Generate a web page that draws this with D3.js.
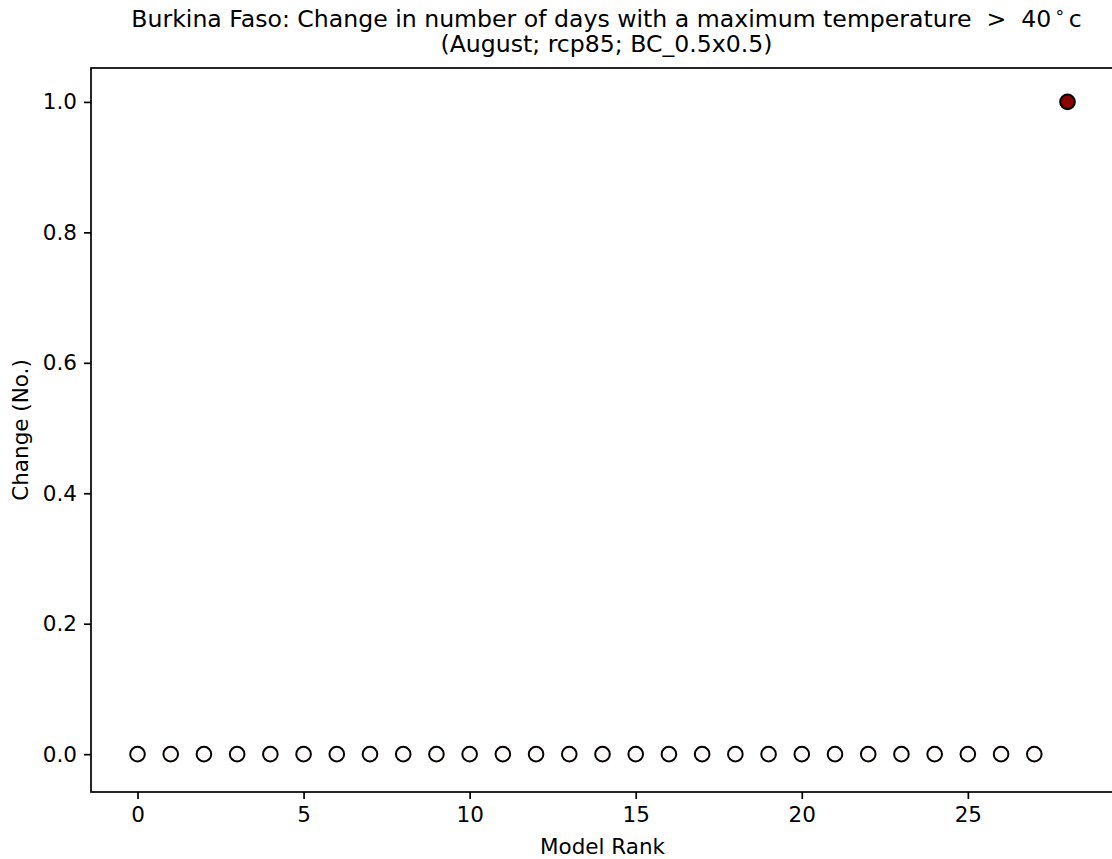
<!DOCTYPE html>
<html>
<head>
<meta charset="utf-8">
<script src="https://cdn.jsdelivr.net/npm/d3@7"></script>
<style>
  body { margin: 0; background: #fff; }
  svg text { font-family: "DejaVu Sans", sans-serif; fill: #000; }
</style>
</head>
<body>
<div id="chart"></div>
<script>
// model rank vs change in number of days
var ranks = d3.range(29);
var changes = [0, 0, 0, 0, 0, 0, 0, 0, 0, 0, 0, 0, 0, 0, 0, 0, 0, 0, 0, 0, 0, 0, 0, 0, 0, 0, 0, 0, 1];
var highlighted = [28];
var xTicks = [0, 5, 10, 15, 20, 25];
var yTicks = [0.0, 0.2, 0.4, 0.6, 0.8, 1.0];

var width = 1112,
    height = 859,
    plotLeft = 91,
    plotRight = 1114,
    plotTop = 68,
    plotBottom = 792,
    fontSize = 21.5,
    titleSize = 23.6;

var svg = d3.select("#chart")
    .append("svg")
    .attr("width", width)
    .attr("height", height);

var x = d3.scaleLinear()
    .domain([-1.4, 29.4])
    .range([plotLeft, plotRight]);

var y = d3.scaleLinear()
    .domain([-0.058, 1.052])
    .range([plotBottom, plotTop]);

// axes
var xAxis = d3.axisBottom(x)
    .tickValues(xTicks)
    .tickFormat(d3.format("d"))
    .tickSizeInner(7)
    .tickSizeOuter(0)
    .tickPadding(7);

var yAxis = d3.axisLeft(y)
    .tickValues(yTicks)
    .tickFormat(d3.format(".1f"))
    .tickSizeInner(7)
    .tickSizeOuter(0)
    .tickPadding(7);

var gx = svg.append("g")
    .attr("transform", "translate(0," + plotBottom + ")")
    .call(xAxis);

var gy = svg.append("g")
    .attr("transform", "translate(" + plotLeft + ",0)")
    .call(yAxis);

[gx, gy].forEach(g => {
    g.select(".domain").remove();
    g.selectAll(".tick line")
        .style("stroke", "#000")
        .style("stroke-width", "1.7px");
    g.selectAll(".tick text")
        .style("font-size", fontSize + "px")
        .style("font-family", "DejaVu Sans, sans-serif")
        .style("fill", "#000");
});

gx.selectAll(".tick text").attr("dy", "0.76em");

// frame
svg.append("rect")
    .attr("x", plotLeft)
    .attr("y", plotTop)
    .attr("width", plotRight - plotLeft)
    .attr("height", plotBottom - plotTop)
    .style("fill", "none")
    .style("stroke", "#000")
    .style("stroke-width", "1.7px");

// points
svg.append("g")
    .selectAll("circle")
    .data(ranks)
    .join("circle")
    .attr("cx", d => x(d))
    .attr("cy", (d, i) => y(changes[i]))
    .attr("r", 7.3)
    .style("fill", d => highlighted.includes(d) ? "#8b0000" : "#fffafa")
    .style("stroke", "#000")
    .style("stroke-width", "2px");

// labels
svg.append("text")
    .attr("x", (plotLeft + plotRight) / 2)
    .attr("y", 854)
    .attr("text-anchor", "middle")
    .style("font-size", fontSize + "px")
    .text("Model Rank");

svg.append("text")
    .attr("transform", "translate(28," + ((plotTop + plotBottom) / 2) + ") rotate(-90)")
    .attr("text-anchor", "middle")
    .style("font-size", fontSize + "px")
    .text("Change (No.)");

var titleX = (plotLeft + plotRight) / 2 + 4;

var title = svg.append("text")
    .attr("x", titleX)
    .attr("y", 27)
    .attr("text-anchor", "middle")
    .style("font-size", titleSize + "px");

title.append("tspan").text("Burkina Faso: Change in number of days with a maximum temperature \u00a0>\u00a0 40");
title.append("tspan").attr("dy", -9).style("font-size", "17px").text("\u2009\u2218\u2009");
title.append("tspan").attr("dy", 9).text("c");

svg.append("text")
    .attr("x", titleX)
    .attr("y", 52)
    .attr("text-anchor", "middle")
    .style("font-size", titleSize + "px")
    .text("(August; rcp85; BC_0.5x0.5)");
</script>
</body>
</html>
